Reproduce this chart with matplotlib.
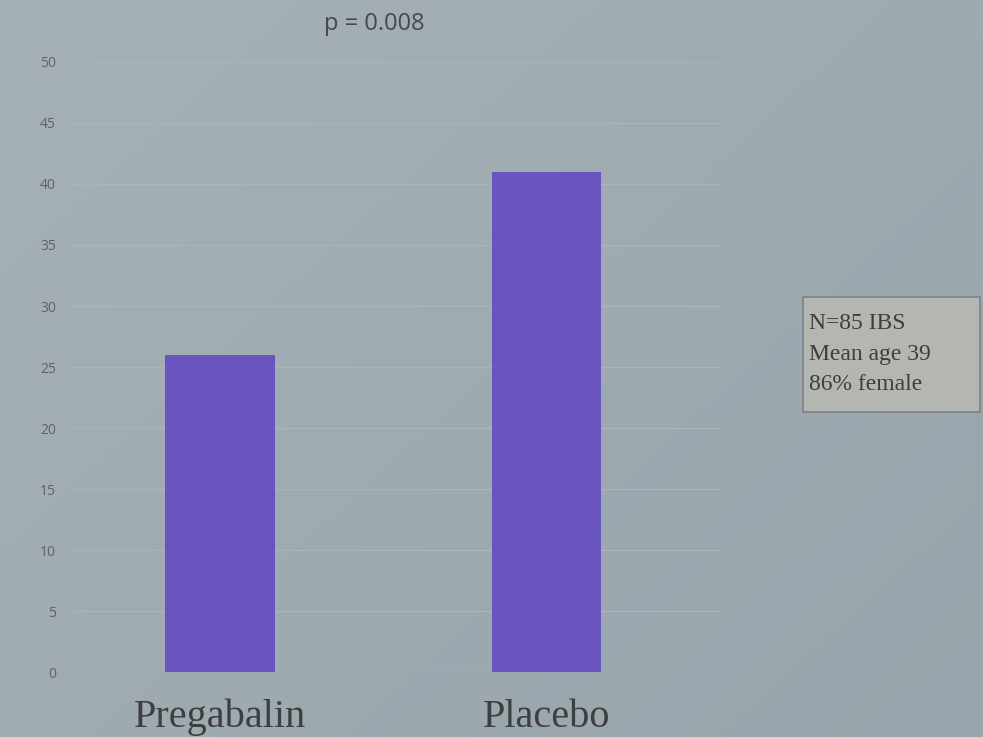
import numpy as np
import matplotlib
matplotlib.use("Agg")
import matplotlib.pyplot as plt
from matplotlib.patches import Rectangle
from matplotlib.colors import LinearSegmentedColormap

# Data
groups = ["Pregabalin", "Placebo"]
values = [26, 41]
y_ticks = [0, 5, 10, 15, 20, 25, 30, 35, 40, 45, 50]
title_text = "p = 0.008"
note_lines = ["N=85 IBS", "Mean age 39", "86% female"]

bar_color = "#6a55bf"

fig = plt.figure(figsize=(9.83, 7.37), dpi=100)

# Soft slate-blue background with a gentle diagonal shading
bg = fig.add_axes([0, 0, 1, 1], zorder=-10)
gx, gy = np.meshgrid(np.linspace(0, 1, 200), np.linspace(0, 1, 200))
shade = 0.55 * gx + 0.45 * gy
cmap = LinearSegmentedColormap.from_list("bg", ["#a6b1b7", "#98a4ab"])
bg.imshow(shade, cmap=cmap, extent=[0, 1, 0, 1], aspect="auto", origin="upper")
bg.set_axis_off()

ax = fig.add_axes([0.071, 0.088, 0.661, 0.828])
ax.set_facecolor("none")
x = np.arange(len(groups))
ax.bar(x, values, width=0.335, color=bar_color, zorder=3)
ax.set_xlim(-0.459, 1.529)
ax.set_ylim(0, 50)
ax.set_yticks(y_ticks)
ax.set_yticklabels([str(t) for t in y_ticks], fontsize=10, color="#5d6266",
                   family="Open Sans")
ax.set_xticks(x)
ax.set_xticklabels(groups, fontsize=29, color="#3e3e3e", family="Liberation Serif")
ax.tick_params(axis="y", length=0, pad=10)
ax.tick_params(axis="x", length=0, pad=19)
ax.grid(axis="y", color="#aab5ba", linewidth=1.0, zorder=0)
for s in ax.spines.values():
    s.set_visible(False)

fig.text(0.381, 0.968, title_text, ha="center", va="center", fontsize=17,
         color="#45494c", family="Open Sans")

# Study note box
fig.patches.append(Rectangle((0.817, 0.441), 0.180, 0.156, transform=fig.transFigure,
                             facecolor="#b3b6b1", edgecolor="#7d8285", linewidth=1.2))
fig.text(0.823, 0.575, "\n".join(note_lines), ha="left", va="top", fontsize=17,
         color="#3e3e3e", family="Liberation Serif", linespacing=1.6)

fig.savefig("out.png", dpi=100)
